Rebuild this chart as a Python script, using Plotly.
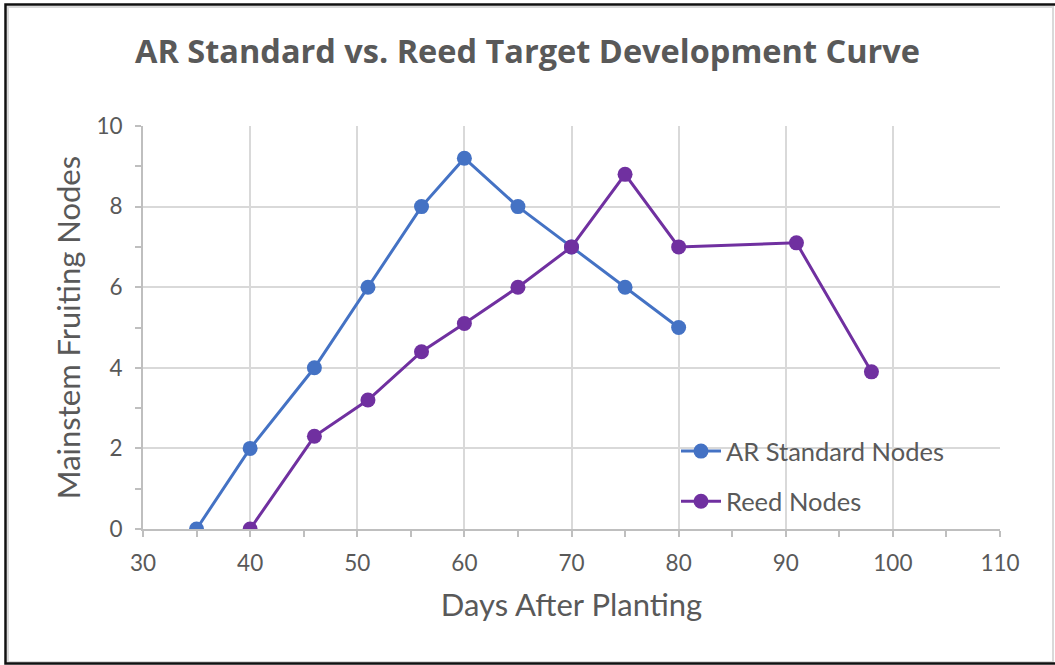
import plotly.graph_objects as go

ar_days = [35, 40, 46, 51, 56, 60, 65, 70, 75, 80]
ar_nodes = [0, 2, 4, 6, 8, 9.2, 8, 7, 6, 5]
reed_days = [40, 46, 51, 56, 60, 65, 70, 75, 80, 91, 98]
reed_nodes = [0, 2.3, 3.2, 4.4, 5.1, 6, 7, 8.8, 7, 7.1, 3.9]

W, H = 1055, 665
L, R, T, B = 143, 1000, 126, 529  # plot area pixel bounds


def px(p):
    return (p - L) / (R - L)


def py(q):
    return (B - q) / (B - T)


fig = go.Figure()
fig.add_trace(go.Scatter(x=ar_days, y=ar_nodes, mode="lines+markers",
                         name="AR Standard Nodes", legendgroup="a",
                         line=dict(color="#4472C4", width=3),
                         marker=dict(size=15, color="#4472C4")))
fig.add_trace(go.Scatter(x=reed_days, y=reed_nodes, mode="lines+markers",
                         name="Reed Nodes", legendgroup="b",
                         line=dict(color="#7030A0", width=3),
                         marker=dict(size=15, color="#7030A0")))

axis_common = dict(showgrid=True, gridcolor="#d9d9d9", gridwidth=2,
                   showline=True, linecolor="#bfbfbf", linewidth=2,
                   zeroline=False, ticks="outside", ticklen=6,
                   tickcolor="#bfbfbf", tickwidth=2,
                   tickfont=dict(family="Lato", size=22.5, color="#595959"))

fig.update_xaxes(range=[30, 110], dtick=10, tick0=30,
                 minor=dict(dtick=5, ticks="outside", ticklen=6,
                            tickcolor="#bfbfbf", tickwidth=2, showgrid=False),
                 title=dict(text="Days After Planting", standoff=19,
                            font=dict(family="Lato", size=31, color="#595959")),
                 ticklabelstandoff=7,
                 **axis_common)
fig.update_yaxes(range=[0, 10], dtick=2,
                 minor=dict(dtick=1, ticks="outside", ticklen=6,
                            tickcolor="#bfbfbf", tickwidth=2, showgrid=False),
                 title=dict(text="Mainstem Fruiting Nodes", standoff=7,
                            font=dict(family="Lato", size=31, color="#595959")),
                 ticklabelstandoff=8,
                 **axis_common)

fig.update_layout(
    width=W, height=H,
    margin=dict(l=L, r=W - R, t=T, b=H - B),
    paper_bgcolor="white", plot_bgcolor="white",
    title=dict(text="<b>AR Standard vs. Reed Target Development Curve</b>",
               x=0.5, xanchor="center", y=1 - 52 / H, yanchor="middle",
               font=dict(family="Open Sans", size=32.5, color="#595959")),
    legend=dict(x=px(676), y=py(428), xanchor="left", yanchor="top",
                traceorder="grouped", tracegroupgap=14,
                bgcolor="rgba(0,0,0,0)",
                font=dict(family="Lato", size=25.5, color="#595959"),
                itemwidth=40),
    showlegend=True,
)

# chart frame
fig.add_shape(type="rect", xref="paper", yref="paper",
              x0=px(8), x1=px(1053), y0=py(662), y1=py(7),
              line=dict(color="#d9d9d9", width=2), layer="below")
fig.add_shape(type="rect", xref="paper", yref="paper",
              x0=px(5.5), x1=px(1058), y0=py(663.5), y1=py(4.5),
              line=dict(color="#111111", width=2.5), layer="below")

fig.write_html("out.html", config={"displayModeBar": False},
               post_script="document.body.style.margin='0';document.body.style.padding='0';")
